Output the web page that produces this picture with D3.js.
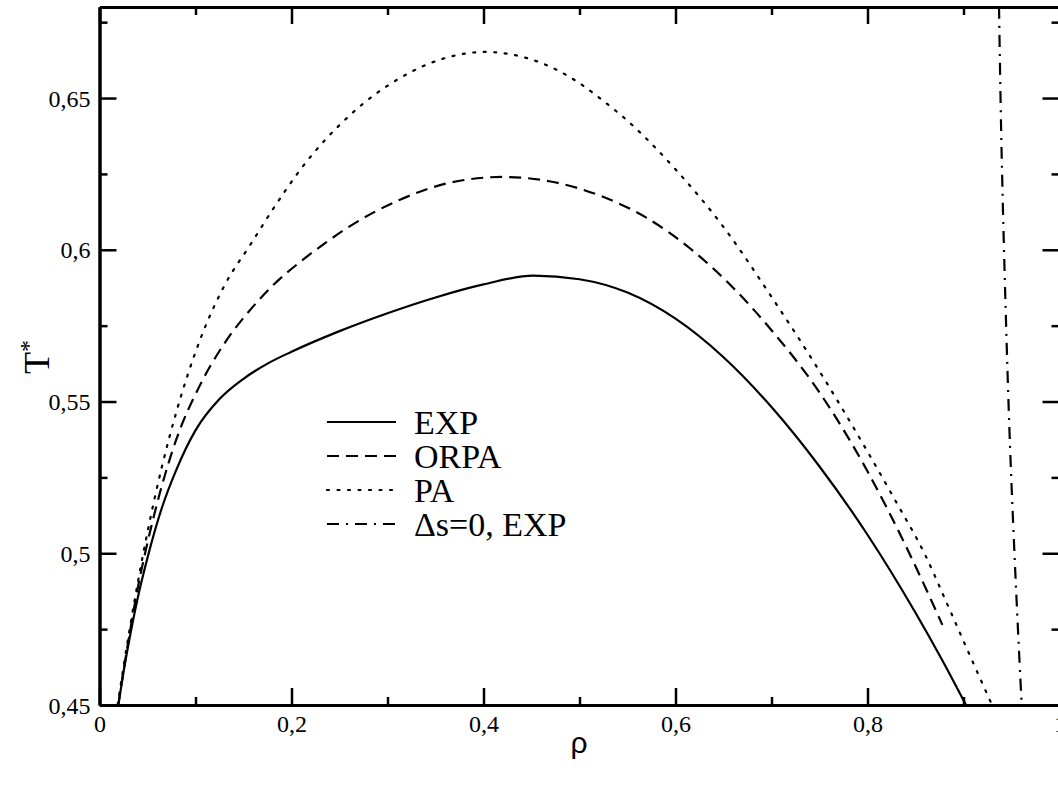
<!DOCTYPE html>
<html>
<head>
<meta charset="utf-8">
<script src="https://cdn.jsdelivr.net/npm/d3@7/dist/d3.min.js"></script>
<style>
  html, body { margin: 0; padding: 0; background: #fff; }
  svg { display: block; }
</style>
</head>
<body>
<svg id="chart" width="1058" height="790"></svg>
<script>
// Coexistence curves T*(rho) for several theories
const rhoEXP = [0.0196, 0.025, 0.031, 0.04, 0.05, 0.065, 0.08, 0.1, 0.125, 0.15, 0.175, 0.2, 0.25, 0.3, 0.35, 0.4, 0.452, 0.5, 0.55, 0.6, 0.65, 0.7, 0.75, 0.8, 0.85, 0.8766, 0.9026];
const tEXP   = [0.45, 0.4608, 0.4714, 0.4855, 0.4985, 0.515, 0.5275, 0.5405, 0.5508, 0.5575, 0.5625, 0.5664, 0.5732, 0.5791, 0.5843, 0.5886, 0.5915, 0.5903, 0.5859, 0.5773, 0.5646, 0.5482, 0.5286, 0.5061, 0.4804, 0.4655, 0.45];

const rhoORPA = [0.0196, 0.025, 0.031, 0.04, 0.05, 0.063, 0.08, 0.1047, 0.13, 0.157, 0.183, 0.209, 0.235, 0.261, 0.313, 0.365, 0.42, 0.47, 0.52, 0.57, 0.615, 0.66, 0.7, 0.75, 0.8, 0.839, 0.878];
const tORPA   = [0.45, 0.4612, 0.4728, 0.4888, 0.5035, 0.52, 0.5375, 0.5554, 0.5691, 0.5802, 0.589, 0.596, 0.6022, 0.6078, 0.6165, 0.6221, 0.624, 0.6225, 0.618, 0.6105, 0.6005, 0.5875, 0.5735, 0.553, 0.527, 0.503, 0.4764];

const rhoPA = [0.0188, 0.025, 0.031, 0.04, 0.05, 0.065, 0.08, 0.1047, 0.131, 0.157, 0.183, 0.209, 0.261, 0.313, 0.365, 0.401, 0.45, 0.5, 0.521, 0.55, 0.6, 0.65, 0.7, 0.75, 0.8, 0.83, 0.86, 0.883, 0.905, 0.929];
const tPA   = [0.45, 0.4625, 0.4742, 0.4905, 0.507, 0.5285, 0.5465, 0.5703, 0.5887, 0.6016, 0.6145, 0.6263, 0.6444, 0.6566, 0.6636, 0.6652, 0.6627, 0.6549, 0.65, 0.6425, 0.6265, 0.6075, 0.5845, 0.56, 0.5335, 0.5168, 0.4995, 0.4833, 0.4675, 0.4505];

const rhoDS0 = [0.937, 0.9395, 0.9435, 0.9485, 0.9545, 0.9606];
const tDS0   = [0.68, 0.635, 0.585, 0.535, 0.49, 0.45];

const xMajorTicks = [0, 0.2, 0.4, 0.6, 0.8, 1.0];
const xMinorTicks = [0.1, 0.3, 0.5, 0.7, 0.9];
const yMajorTicks = [0.45, 0.5, 0.55, 0.6, 0.65];
const yMinorTicks = [0.475, 0.525, 0.575, 0.625, 0.675];

const legendLabels = ["EXP", "ORPA", "PA", "\u0394s=0, EXP"];

(function () {
  const series = [
    { name: legendLabels[0], rho: rhoEXP,  t: tEXP,  dash: null },
    { name: legendLabels[1], rho: rhoORPA, t: tORPA, dash: "12,7" },
    { name: legendLabels[2], rho: rhoPA,   t: tPA,   dash: "2,8.5" },
    { name: legendLabels[3], rho: rhoDS0,  t: tDS0,  dash: "12,7,2,7" }
  ];

  const svg = d3.select("#chart");
  const serif = "'Liberation Serif', 'Times New Roman', serif";

  const pLeft = 99.5, pRight = 1059.5, pTop = 7, pBottom = 705;
  const x = d3.scaleLinear().domain([0, 1]).range([pLeft, pRight]);
  const y = d3.scaleLinear().domain([0.45, 0.68]).range([pBottom, pTop]);

  const fmt = v => String(+v.toFixed(3)).replace(".", ",");

  svg.append("defs").append("clipPath").attr("id", "plotclip")
    .append("rect").attr("x", pLeft).attr("y", pTop)
    .attr("width", pRight - pLeft).attr("height", pBottom - pTop);

  // curves
  const line = d3.line().x(d => x(d[0])).y(d => y(d[1])).curve(d3.curveMonotoneX);
  const lineY = d3.line().x(d => x(d[0])).y(d => y(d[1])).curve(d3.curveCatmullRom);
  const plot = svg.append("g").attr("clip-path", "url(#plotclip)");
  series.forEach((s, i) => {
    const pts = s.rho.map((r, k) => [r, s.t[k]]);
    plot.append("path")
      .attr("d", i === 3 ? lineY(pts) : line(pts))
      .attr("fill", "none")
      .attr("stroke", "#000")
      .attr("stroke-width", 2.2)
      .attr("stroke-dasharray", s.dash)
      .attr("stroke-linecap", i === 2 ? "round" : "butt");
  });

  // axes: box with inward ticks on all four sides
  const major = 17, minor = 8;
  const axB = d3.axisBottom(x).tickValues(xMajorTicks).tickSizeInner(-major).tickSizeOuter(0).tickFormat(fmt);
  const axBm = d3.axisBottom(x).tickValues(xMinorTicks).tickSizeInner(-minor).tickSizeOuter(0).tickFormat("");
  const axT = d3.axisTop(x).tickValues(xMajorTicks).tickSizeInner(-major).tickSizeOuter(0).tickFormat("");
  const axTm = d3.axisTop(x).tickValues(xMinorTicks).tickSizeInner(-minor).tickSizeOuter(0).tickFormat("");
  const axL = d3.axisLeft(y).tickValues(yMajorTicks).tickSizeInner(-major).tickSizeOuter(0).tickFormat(fmt);
  const axLm = d3.axisLeft(y).tickValues(yMinorTicks).tickSizeInner(-minor).tickSizeOuter(0).tickFormat("");
  const axR = d3.axisRight(y).tickValues(yMajorTicks).tickSizeInner(-major).tickSizeOuter(0).tickFormat("");
  const axRm = d3.axisRight(y).tickValues(yMinorTicks).tickSizeInner(-minor).tickSizeOuter(0).tickFormat("");

  function drawAxis(axis, tr) {
    const g = svg.append("g").attr("transform", tr).call(axis);
    g.attr("font-family", serif).attr("font-size", 24);
    g.selectAll("path.domain").attr("stroke", "#000").attr("stroke-width", 3);
    g.selectAll(".tick line").attr("stroke", "#000").attr("stroke-width", 2.5);
    g.selectAll(".tick text").attr("fill", "#000")
      .style("font-family", serif).style("font-size", "24px");
    return g;
  }
  drawAxis(axBm, `translate(0,${pBottom})`);
  const gB = drawAxis(axB, `translate(0,${pBottom})`);
  gB.selectAll(".tick text").attr("dy", null).attr("y", 27);
  drawAxis(axTm, `translate(0,${pTop})`);
  drawAxis(axT, `translate(0,${pTop})`);
  drawAxis(axLm, `translate(${pLeft},0)`);
  const gL = drawAxis(axL, `translate(${pLeft},0)`);
  gL.selectAll(".tick text").attr("dy", null).attr("y", 8).attr("x", -9);
  drawAxis(axRm, `translate(${pRight},0)`);
  drawAxis(axR, `translate(${pRight},0)`);

  // axis titles
  svg.append("text")
    .attr("x", 579).attr("y", 753)
    .attr("text-anchor", "middle")
    .attr("font-family", "'Liberation Sans', Arial, sans-serif")
    .attr("font-size", 30)
    .text("\u03C1");

  const yt = svg.append("text")
    .attr("transform", "translate(49,374) rotate(-90)")
    .attr("font-family", serif)
    .attr("font-size", 36);
  yt.append("tspan").text("T");
  yt.append("tspan").attr("font-size", 24).attr("dy", -13).text("*");

  // legend
  const legX0 = 327, legX1 = 396, legTextX = 414, legY0 = 422, legStep = 34;
  const leg = svg.append("g");
  series.forEach((s, i) => {
    const yy = legY0 + i * legStep;
    leg.append("line")
      .attr("x1", legX0).attr("x2", legX1).attr("y1", yy).attr("y2", yy)
      .attr("stroke", "#000").attr("stroke-width", 2.2)
      .attr("stroke-dasharray", s.dash)
      .attr("stroke-linecap", i === 2 ? "round" : "butt");
    leg.append("text")
      .attr("x", legTextX).attr("y", yy + 12)
      .attr("font-family", serif).attr("font-size", 34)
      .text(s.name);
  });
})();
</script>
</body>
</html>
